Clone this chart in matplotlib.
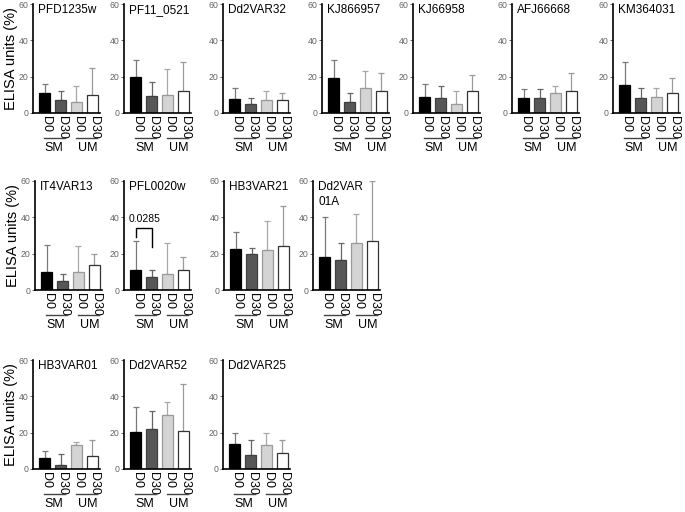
import matplotlib
matplotlib.use("Agg")
import matplotlib.pyplot as plt
import matplotlib.transforms as mtransforms

plt.rcParams['font.family'] = ['Liberation Sans', 'DejaVu Sans']

conditions = ["D0", "D30", "D0", "D30"]
groups = ["SM", "UM"]

titles = ["PFD1235w", "PF11_0521", "Dd2VAR32", "KJ866957", "KJ66958", "AFJ66668", "KM364031",
          "IT4VAR13", "PFL0020w", "HB3VAR21", "Dd2VAR\n01A",
          "HB3VAR01", "Dd2VAR52", "Dd2VAR25"]

means = [
    [11, 7, 6, 10],
    [20, 9.5, 10, 12],
    [7.5, 5, 7, 7],
    [19.5, 6, 14, 12],
    [9, 8.5, 5, 12],
    [8, 8, 11, 12],
    [15.5, 8.5, 9, 11],
    [10, 5, 10, 14],
    [11, 7, 9, 11],
    [22.5, 20, 22, 24],
    [18, 16.5, 26, 27],
    [6, 2, 13, 7],
    [20.5, 22, 30, 21],
    [14, 7.5, 13, 9],
]

# top of the upper error bar (mean + SD)
err_tops = [
    [16, 12, 15, 25],
    [29, 17, 24, 28],
    [14, 8, 12, 11],
    [29, 11, 23, 22],
    [16, 15, 12, 21],
    [13, 13, 15, 22],
    [28, 14, 14, 19],
    [25, 9, 24, 20],
    [27, 11, 26, 18],
    [32, 23, 38, 46],
    [40, 26, 42, 60],
    [10, 8, 15, 16],
    [34, 32, 37, 47],
    [20, 16, 20, 16],
]

sig_panel = "PFL0020w"
sig_text = "0.0285"

rows = [7, 4, 3]
row_zero_px = [113, 290, 469]
row_left_px = [[33, 124, 223, 322, 413, 512, 613],
               [35, 124, 224, 313],
               [33, 124, 223]]

fill_colors = ["black", "#575757", "#d4d4d4", "white"]
edge_colors = ["black", "#404040", "#9a9a9a", "#333333"]
err_colors = ["#7a7a7a", "#666666", "#a8a8a8", "#9a9a9a"]

W, H = 685, 512
fig = plt.figure(figsize=(W / 100, H / 100), dpi=100)

ax_w_px, ax_h_px = 67, 109
idx = 0
for r, n in enumerate(rows):
    for c in range(n):
        lp = row_left_px[r][c]
        z = row_zero_px[r]
        ax = fig.add_axes([lp / W, 1 - z / H, ax_w_px / W, ax_h_px / H])
        m = means[idx]
        t = err_tops[idx]
        x = list(range(4))
        ax.bar(x, m, width=0.68, color=fill_colors, edgecolor=edge_colors, linewidth=0.9, zorder=2)
        for i in range(4):
            ax.errorbar(x[i], m[i], yerr=[[0], [t[i] - m[i]]], fmt='none',
                        ecolor=err_colors[i], elinewidth=0.9, capsize=2.3, capthick=0.9, zorder=1)
        ax.set_xlim(-0.72, 3.47)
        ax.set_ylim(0, 60)
        ax.set_yticks([0, 20, 40, 60])
        ax.tick_params(axis='y', labelsize=6.3, labelcolor='#666666', color='#666666',
                       length=2.5, width=0.7, pad=1)
        ax.set_xticks([xi + 0.12 for xi in x])
        ax.set_xticklabels(conditions, rotation=-90, fontsize=9)
        ax.tick_params(axis='x', length=0, pad=2)
        for s in ['top', 'right']:
            ax.spines[s].set_visible(False)
        for s in ['left', 'bottom']:
            ax.spines[s].set_linewidth(1.2)
        ax.text(0.08, 1.0, titles[idx], transform=ax.transAxes, fontsize=8.5,
                va='top', ha='left', linespacing=1.3)
        trans = mtransforms.blended_transform_factory(ax.transData, ax.transAxes)
        for g, (x0, x1, xc) in enumerate([(-0.05, 1.3, 0.6), (1.95, 3.3, 2.7)]):
            ax.plot([x0, x1], [-0.225, -0.225], transform=trans, color='#444444',
                    lw=1.0, clip_on=False)
            ax.text(xc, -0.32, groups[g], transform=trans, fontsize=9,
                    ha='center', va='center')
        if titles[idx] == sig_panel:
            ax.plot([0, 0, 1, 1], [29, 34, 34, 23.5], color='black', lw=1.0, zorder=3)
            ax.text(-0.45, 36.5, sig_text, fontsize=7.5, ha='left', va='bottom')
        if c == 0:
            ax.set_ylabel("ELISA units (%)", fontsize=10.5)
            ax.yaxis.set_label_coords(-15 / ax_w_px, 0.5)
        idx += 1

fig.savefig("out.png", dpi=100)
